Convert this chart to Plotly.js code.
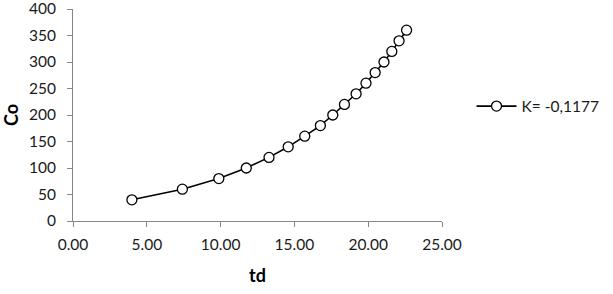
<!DOCTYPE html>
<html><head><meta charset="utf-8">
<script src="https://cdn.plot.ly/plotly-3.0.1.min.js"></script>
<style>html,body{margin:0;padding:0;background:#fff;}</style>
</head><body>
<div id="chart" style="width:613px;height:294px;"></div>
<script>
const td = [3.99, 7.41, 9.88, 11.74, 13.28, 14.58, 15.70, 16.76, 17.60, 18.39, 19.18, 19.85, 20.47, 21.07, 21.60, 22.09, 22.60];
const co = [40, 60, 80, 100, 120, 140, 160, 180, 200, 220, 240, 260, 280, 300, 320, 340, 360];
const seriesName = "K= -0,1177";
const xTicks = [0, 5, 10, 15, 20, 25];
const xTickText = ["0.00", "5.00", "10.00", "15.00", "20.00", "25.00"];
const yTicks = [0, 50, 100, 150, 200, 250, 300, 350, 400];

const font = "Lato, 'Open Sans', sans-serif";
Plotly.newPlot("chart", [{
  x: td, y: co, name: seriesName, type: "scatter", mode: "lines+markers",
  line: {color: "#000", width: 1.6},
  marker: {symbol: "circle", size: 10, color: "#fff", line: {color: "#000", width: 1.3}}
}], {
  width: 613, height: 294,
  margin: {l: 73, r: 168, t: 9, b: 73},
  paper_bgcolor: "#fff", plot_bgcolor: "#fff",
  font: {family: font, size: 15.5, color: "#1a1a1a"},
  showlegend: true,
  legend: {x: 1.08, xanchor: "left", y: 0.54, yanchor: "middle", itemwidth: 40,
           font: {family: font, size: 15.5, color: "#1a1a1a"}, bgcolor: "rgba(0,0,0,0)"},
  xaxis: {
    range: [0, 25], tickvals: xTicks, ticktext: xTickText,
    showline: true, linecolor: "#868686", linewidth: 1,
    ticks: "outside", ticklen: 5, tickcolor: "#868686", ticklabelstandoff: 4,
    showgrid: false, zeroline: false, ticklabeloverflow: "allow",
    title: {text: "<b>td</b>", font: {family: font, size: 18, color: "#000"}, standoff: 17}
  },
  yaxis: {
    range: [0, 400], tickvals: yTicks,
    showline: true, linecolor: "#868686", linewidth: 1,
    ticks: "outside", ticklen: 5, tickcolor: "#868686", ticklabelstandoff: 8,
    showgrid: false, zeroline: false, ticklabeloverflow: "allow",
    title: {text: "<b>Co</b>", font: {family: font, size: 18, color: "#000"}, standoff: 10}
  }
}, {displayModeBar: false, staticPlot: true});
</script>
</body></html>
